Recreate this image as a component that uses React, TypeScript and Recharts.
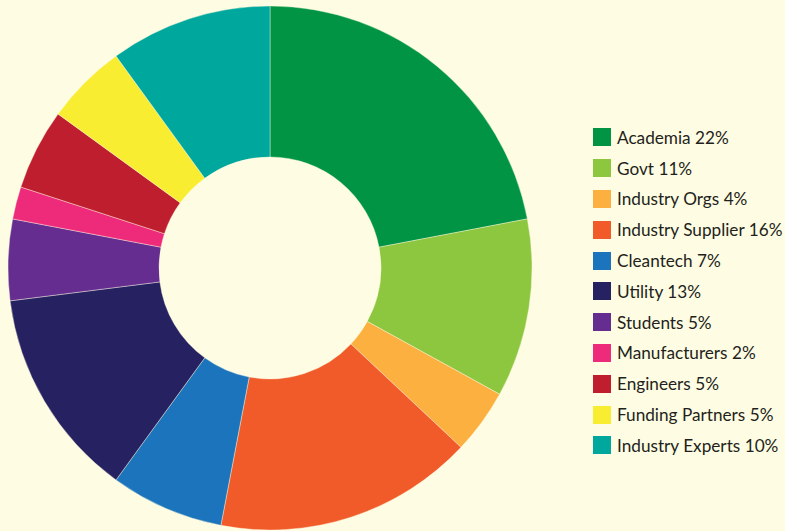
import { PieChart, Pie, Cell, Legend } from 'recharts';

const categories = [
    'Academia', 'Govt', 'Industry Orgs', 'Industry Supplier', 'Cleantech', 'Utility',
    'Students', 'Manufacturers', 'Engineers', 'Funding Partners', 'Industry Experts',
];
const shares = [22, 11, 4, 16, 7, 13, 5, 2, 5, 5, 10];
const colors = [
    '#009444', '#8DC63F', '#FBB040', '#F15A29', '#1C75BC', '#262262',
    '#662D91', '#EE2A7B', '#BE1E2D', '#F9ED32', '#00A79D',
];

const BG = '#FEFCE2';

const data = categories.map((name, i) => ({ name, value: shares[i] }));

function LegendList() {
    return (
        <div style={{ fontFamily: 'Lato, "Noto Sans", sans-serif', fontSize: 17.2, color: '#231F20' }}>
            {data.map((d, i) => (
                <div key={d.name} style={{ display: 'flex', alignItems: 'center', height: 30.8 }}>
                    <span style={{
                        display: 'inline-block', width: 18, height: 18, flexShrink: 0,
                        background: colors[i], marginRight: 6,
                    }} />
                    <span style={{ whiteSpace: 'nowrap' }}>{d.name} {d.value}%</span>
                </div>
            ))}
        </div>
    );
}

export default function App() {
    return (
        <div style={{ position: 'absolute', left: 0, top: 0, width: 785, height: 531, background: BG }}>
            <PieChart width={785} height={531} margin={{ top: 0, right: 0, bottom: 0, left: 0 }}>
                <Pie
                    data={data} dataKey="value" nameKey="name"
                    cx={270} cy={268} outerRadius={262} innerRadius={111}
                    startAngle={90} endAngle={-270}
                    stroke={BG} strokeWidth={0.4}
                    isAnimationActive={false}
                >
                    {data.map((d, i) => <Cell key={d.name} fill={colors[i]} />)}
                </Pie>
                <Legend
                    content={<LegendList />}
                    wrapperStyle={{ position: 'absolute', left: 593, top: 122, width: 192 }}
                />
            </PieChart>
        </div>
    );
}
